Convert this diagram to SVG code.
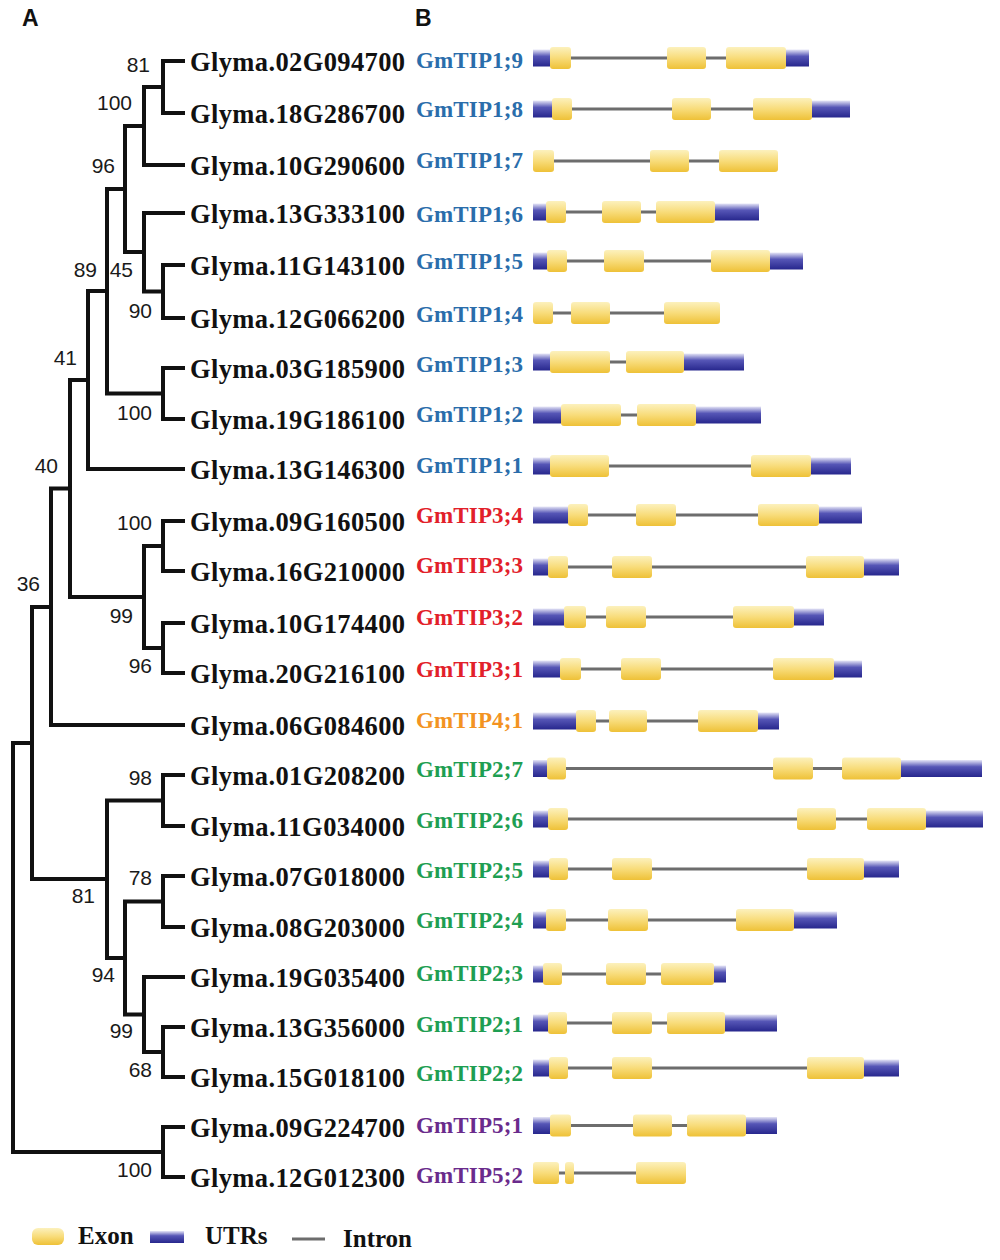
<svg xmlns="http://www.w3.org/2000/svg" width="1000" height="1260" viewBox="0 0 1000 1260">
<defs>
<linearGradient id="gEx" x1="0" y1="0" x2="0" y2="1"><stop offset="0" stop-color="#fcf1bd"/><stop offset="0.5" stop-color="#f8dc7a"/><stop offset="1" stop-color="#eec137"/></linearGradient>
<linearGradient id="gUt" x1="0" y1="0" x2="0" y2="1"><stop offset="0" stop-color="#e6e6f7"/><stop offset="0.4" stop-color="#5656b6"/><stop offset="1" stop-color="#27278d"/></linearGradient>
<style>
.gn{font-family:"Liberation Serif","Times New Roman",serif;font-weight:bold;font-size:26.5px;fill:#111}
.lb{font-family:"Liberation Serif","Times New Roman",serif;font-weight:bold;font-size:23px}
.blue{fill:#2a6dab}.red{fill:#e2202a}.orange{fill:#f39322}.green{fill:#1e9e52}.purple{fill:#6a2b8c}
.bs{font-family:"Liberation Sans",Arial,sans-serif;font-size:21px;text-anchor:end;fill:#1a1a1a}
.pn{font-family:"Liberation Sans",Arial,sans-serif;font-size:23px;font-weight:bold;fill:#111}
.lg{font-family:"Liberation Serif","Times New Roman",serif;font-weight:bold;font-size:25px;fill:#111}
.br{fill:none;stroke:#111;stroke-width:4;stroke-linecap:square;stroke-linejoin:miter}
.in{stroke:#6d6d6d;stroke-width:3}
.ex{fill:url(#gEx)}
.ut{fill:url(#gUt)}
</style>
</defs>
<rect width="1000" height="1260" fill="#fff"/>
<text class="pn" x="22" y="26">A</text>
<text class="pn" x="415" y="26">B</text>

<g id="connectors">
<path class="br" d="M183,61 H163 V113 H183"/>
<path class="br" d="M163,87 H144 V165 H183"/>
<path class="br" d="M183,265 H163 V318 H183"/>
<path class="br" d="M183,213 H144 V291.5 H163"/>
<path class="br" d="M144,126 H125 V252 H144"/>
<path class="br" d="M183,368 H163 V419 H183"/>
<path class="br" d="M125,189 H107 V393.5 H163"/>
<path class="br" d="M107,291 H88 V469 H183"/>
<path class="br" d="M183,521 H163 V571 H183"/>
<path class="br" d="M183,623 H163 V673 H183"/>
<path class="br" d="M163,546 H144 V648 H163"/>
<path class="br" d="M88,380 H70 V597 H144"/>
<path class="br" d="M70,488.5 H51 V725 H183"/>
<path class="br" d="M183,775 H163 V826 H183"/>
<path class="br" d="M183,876 H163 V927 H183"/>
<path class="br" d="M183,1027 H163 V1077 H183"/>
<path class="br" d="M183,977 H144 V1052 H163"/>
<path class="br" d="M163,901.5 H125 V1014.5 H144"/>
<path class="br" d="M163,800.5 H107 V958 H125"/>
<path class="br" d="M51,607 H32 V879 H107"/>
<path class="br" d="M183,1127 H163 V1177 H183"/>
<path class="br" d="M32,743 H13 V1152 H163"/>
</g>

<g id="bootstrap">
<text class="bs" x="150" y="72">81</text>
<text class="bs" x="132" y="110">100</text>
<text class="bs" x="115" y="173">96</text>
<text class="bs" x="97" y="277">89</text>
<text class="bs" x="133" y="277">45</text>
<text class="bs" x="152" y="318">90</text>
<text class="bs" x="77" y="365">41</text>
<text class="bs" x="152" y="420">100</text>
<text class="bs" x="58" y="473">40</text>
<text class="bs" x="152" y="530">100</text>
<text class="bs" x="40" y="591">36</text>
<text class="bs" x="133" y="623">99</text>
<text class="bs" x="152" y="673">96</text>
<text class="bs" x="152" y="785">98</text>
<text class="bs" x="95" y="903">81</text>
<text class="bs" x="152" y="885">78</text>
<text class="bs" x="115" y="982">94</text>
<text class="bs" x="133" y="1038">99</text>
<text class="bs" x="152" y="1077">68</text>
<text class="bs" x="152" y="1177">100</text>
</g>

<g id="GmTIP1-9"><text class="gn" x="190" y="71" textLength="215" lengthAdjust="spacing">Glyma.02G094700</text><text class="lb blue" x="416" y="68" textLength="107" lengthAdjust="spacing">GmTIP1;9</text>
<line class="in" x1="550" y1="58" x2="726" y2="58"/><rect class="ut" x="533" y="49.5" width="17" height="17"/><rect class="ut" x="786" y="49.5" width="23" height="17"/><rect class="ex" x="550" y="47" width="21" height="22" rx="3"/><rect class="ex" x="667" y="47" width="39" height="22" rx="3"/><rect class="ex" x="726" y="47" width="60" height="22" rx="3"/></g>

<g id="GmTIP1-8"><text class="gn" x="190" y="123" textLength="215" lengthAdjust="spacing">Glyma.18G286700</text><text class="lb blue" x="416" y="117" textLength="107" lengthAdjust="spacing">GmTIP1;8</text>
<line class="in" x1="552" y1="109" x2="753" y2="109"/><rect class="ut" x="533" y="100.5" width="19" height="17"/><rect class="ut" x="812" y="100.5" width="38" height="17"/><rect class="ex" x="552" y="98" width="20" height="22" rx="3"/><rect class="ex" x="672" y="98" width="39" height="22" rx="3"/><rect class="ex" x="753" y="98" width="59" height="22" rx="3"/></g>

<g id="GmTIP1-7"><text class="gn" x="190" y="175" textLength="215" lengthAdjust="spacing">Glyma.10G290600</text><text class="lb blue" x="416" y="168" textLength="107" lengthAdjust="spacing">GmTIP1;7</text>
<line class="in" x1="533" y1="161" x2="719" y2="161"/><rect class="ex" x="533" y="150" width="21" height="22" rx="3"/><rect class="ex" x="650" y="150" width="39" height="22" rx="3"/><rect class="ex" x="719" y="150" width="59" height="22" rx="3"/></g>

<g id="GmTIP1-6"><text class="gn" x="190" y="223" textLength="215" lengthAdjust="spacing">Glyma.13G333100</text><text class="lb blue" x="416" y="222" textLength="107" lengthAdjust="spacing">GmTIP1;6</text>
<line class="in" x1="546" y1="212" x2="656" y2="212"/><rect class="ut" x="533" y="203.5" width="13" height="17"/><rect class="ut" x="715" y="203.5" width="44" height="17"/><rect class="ex" x="546" y="201" width="20" height="22" rx="3"/><rect class="ex" x="602" y="201" width="39" height="22" rx="3"/><rect class="ex" x="656" y="201" width="59" height="22" rx="3"/></g>

<g id="GmTIP1-5"><text class="gn" x="190" y="275" textLength="215" lengthAdjust="spacing">Glyma.11G143100</text><text class="lb blue" x="416" y="269" textLength="107" lengthAdjust="spacing">GmTIP1;5</text>
<line class="in" x1="547" y1="261" x2="711" y2="261"/><rect class="ut" x="533" y="252.5" width="14" height="17"/><rect class="ut" x="770" y="252.5" width="33" height="17"/><rect class="ex" x="547" y="250" width="20" height="22" rx="3"/><rect class="ex" x="604" y="250" width="40" height="22" rx="3"/><rect class="ex" x="711" y="250" width="59" height="22" rx="3"/></g>

<g id="GmTIP1-4"><text class="gn" x="190" y="328" textLength="215" lengthAdjust="spacing">Glyma.12G066200</text><text class="lb blue" x="416" y="322" textLength="107" lengthAdjust="spacing">GmTIP1;4</text>
<line class="in" x1="533" y1="313" x2="664" y2="313"/><rect class="ex" x="533" y="302" width="20" height="22" rx="3"/><rect class="ex" x="571" y="302" width="39" height="22" rx="3"/><rect class="ex" x="664" y="302" width="56" height="22" rx="3"/></g>

<g id="GmTIP1-3"><text class="gn" x="190" y="378" textLength="215" lengthAdjust="spacing">Glyma.03G185900</text><text class="lb blue" x="416" y="372" textLength="107" lengthAdjust="spacing">GmTIP1;3</text>
<line class="in" x1="550" y1="362" x2="626" y2="362"/><rect class="ut" x="533" y="353.5" width="17" height="17"/><rect class="ut" x="684" y="353.5" width="60" height="17"/><rect class="ex" x="550" y="351" width="60" height="22" rx="3"/><rect class="ex" x="626" y="351" width="58" height="22" rx="3"/></g>

<g id="GmTIP1-2"><text class="gn" x="190" y="429" textLength="215" lengthAdjust="spacing">Glyma.19G186100</text><text class="lb blue" x="416" y="422" textLength="107" lengthAdjust="spacing">GmTIP1;2</text>
<line class="in" x1="561" y1="415" x2="637" y2="415"/><rect class="ut" x="533" y="406.5" width="28" height="17"/><rect class="ut" x="696" y="406.5" width="65" height="17"/><rect class="ex" x="561" y="404" width="60" height="22" rx="3"/><rect class="ex" x="637" y="404" width="59" height="22" rx="3"/></g>

<g id="GmTIP1-1"><text class="gn" x="190" y="479" textLength="215" lengthAdjust="spacing">Glyma.13G146300</text><text class="lb blue" x="416" y="473" textLength="107" lengthAdjust="spacing">GmTIP1;1</text>
<line class="in" x1="550" y1="466" x2="751" y2="466"/><rect class="ut" x="533" y="457.5" width="17" height="17"/><rect class="ut" x="811" y="457.5" width="40" height="17"/><rect class="ex" x="550" y="455" width="59" height="22" rx="3"/><rect class="ex" x="751" y="455" width="60" height="22" rx="3"/></g>

<g id="GmTIP3-4"><text class="gn" x="190" y="531" textLength="215" lengthAdjust="spacing">Glyma.09G160500</text><text class="lb red" x="416" y="523" textLength="107" lengthAdjust="spacing">GmTIP3;4</text>
<line class="in" x1="568" y1="515" x2="758" y2="515"/><rect class="ut" x="533" y="506.5" width="35" height="17"/><rect class="ut" x="819" y="506.5" width="43" height="17"/><rect class="ex" x="568" y="504" width="20" height="22" rx="3"/><rect class="ex" x="636" y="504" width="40" height="22" rx="3"/><rect class="ex" x="758" y="504" width="61" height="22" rx="3"/></g>

<g id="GmTIP3-3"><text class="gn" x="190" y="581" textLength="215" lengthAdjust="spacing">Glyma.16G210000</text><text class="lb red" x="416" y="573" textLength="107" lengthAdjust="spacing">GmTIP3;3</text>
<line class="in" x1="548" y1="567" x2="806" y2="567"/><rect class="ut" x="533" y="558.5" width="15" height="17"/><rect class="ut" x="864" y="558.5" width="35" height="17"/><rect class="ex" x="548" y="556" width="20" height="22" rx="3"/><rect class="ex" x="612" y="556" width="40" height="22" rx="3"/><rect class="ex" x="806" y="556" width="58" height="22" rx="3"/></g>

<g id="GmTIP3-2"><text class="gn" x="190" y="633" textLength="215" lengthAdjust="spacing">Glyma.10G174400</text><text class="lb red" x="416" y="625" textLength="107" lengthAdjust="spacing">GmTIP3;2</text>
<line class="in" x1="564" y1="617" x2="733" y2="617"/><rect class="ut" x="533" y="608.5" width="31" height="17"/><rect class="ut" x="794" y="608.5" width="30" height="17"/><rect class="ex" x="564" y="606" width="22" height="22" rx="3"/><rect class="ex" x="606" y="606" width="40" height="22" rx="3"/><rect class="ex" x="733" y="606" width="61" height="22" rx="3"/></g>

<g id="GmTIP3-1"><text class="gn" x="190" y="683" textLength="215" lengthAdjust="spacing">Glyma.20G216100</text><text class="lb red" x="416" y="677" textLength="107" lengthAdjust="spacing">GmTIP3;1</text>
<line class="in" x1="560" y1="669" x2="773" y2="669"/><rect class="ut" x="533" y="660.5" width="27" height="17"/><rect class="ut" x="834" y="660.5" width="28" height="17"/><rect class="ex" x="560" y="658" width="21" height="22" rx="3"/><rect class="ex" x="621" y="658" width="40" height="22" rx="3"/><rect class="ex" x="773" y="658" width="61" height="22" rx="3"/></g>

<g id="GmTIP4-1"><text class="gn" x="190" y="735" textLength="215" lengthAdjust="spacing">Glyma.06G084600</text><text class="lb orange" x="416" y="728" textLength="107" lengthAdjust="spacing">GmTIP4;1</text>
<line class="in" x1="576" y1="721" x2="698" y2="721"/><rect class="ut" x="533" y="712.5" width="43" height="17"/><rect class="ut" x="758" y="712.5" width="21" height="17"/><rect class="ex" x="576" y="710" width="20" height="22" rx="3"/><rect class="ex" x="609" y="710" width="38" height="22" rx="3"/><rect class="ex" x="698" y="710" width="60" height="22" rx="3"/></g>

<g id="GmTIP2-7"><text class="gn" x="190" y="785" textLength="215" lengthAdjust="spacing">Glyma.01G208200</text><text class="lb green" x="416" y="777" textLength="107" lengthAdjust="spacing">GmTIP2;7</text>
<line class="in" x1="547" y1="768.5" x2="842" y2="768.5"/><rect class="ut" x="533" y="760" width="14" height="17"/><rect class="ut" x="901" y="760" width="81" height="17"/><rect class="ex" x="547" y="757.5" width="19" height="22" rx="3"/><rect class="ex" x="773" y="757.5" width="40" height="22" rx="3"/><rect class="ex" x="842" y="757.5" width="59" height="22" rx="3"/></g>

<g id="GmTIP2-6"><text class="gn" x="190" y="836" textLength="215" lengthAdjust="spacing">Glyma.11G034000</text><text class="lb green" x="416" y="828" textLength="107" lengthAdjust="spacing">GmTIP2;6</text>
<line class="in" x1="548" y1="819" x2="867" y2="819"/><rect class="ut" x="533" y="810.5" width="15" height="17"/><rect class="ut" x="926" y="810.5" width="57" height="17"/><rect class="ex" x="548" y="808" width="20" height="22" rx="3"/><rect class="ex" x="797" y="808" width="39" height="22" rx="3"/><rect class="ex" x="867" y="808" width="59" height="22" rx="3"/></g>

<g id="GmTIP2-5"><text class="gn" x="190" y="886" textLength="215" lengthAdjust="spacing">Glyma.07G018000</text><text class="lb green" x="416" y="878" textLength="107" lengthAdjust="spacing">GmTIP2;5</text>
<line class="in" x1="549" y1="869" x2="807" y2="869"/><rect class="ut" x="533" y="860.5" width="16" height="17"/><rect class="ut" x="864" y="860.5" width="35" height="17"/><rect class="ex" x="549" y="858" width="19" height="22" rx="3"/><rect class="ex" x="612" y="858" width="40" height="22" rx="3"/><rect class="ex" x="807" y="858" width="57" height="22" rx="3"/></g>

<g id="GmTIP2-4"><text class="gn" x="190" y="937" textLength="215" lengthAdjust="spacing">Glyma.08G203000</text><text class="lb green" x="416" y="928" textLength="107" lengthAdjust="spacing">GmTIP2;4</text>
<line class="in" x1="546" y1="920" x2="736" y2="920"/><rect class="ut" x="533" y="911.5" width="13" height="17"/><rect class="ut" x="794" y="911.5" width="43" height="17"/><rect class="ex" x="546" y="909" width="20" height="22" rx="3"/><rect class="ex" x="608" y="909" width="40" height="22" rx="3"/><rect class="ex" x="736" y="909" width="58" height="22" rx="3"/></g>

<g id="GmTIP2-3"><text class="gn" x="190" y="987" textLength="215" lengthAdjust="spacing">Glyma.19G035400</text><text class="lb green" x="416" y="981" textLength="107" lengthAdjust="spacing">GmTIP2;3</text>
<line class="in" x1="543" y1="974" x2="661" y2="974"/><rect class="ut" x="533" y="965.5" width="10" height="17"/><rect class="ut" x="714" y="965.5" width="12" height="17"/><rect class="ex" x="543" y="963" width="19" height="22" rx="3"/><rect class="ex" x="606" y="963" width="40" height="22" rx="3"/><rect class="ex" x="661" y="963" width="53" height="22" rx="3"/></g>

<g id="GmTIP2-1"><text class="gn" x="190" y="1037" textLength="215" lengthAdjust="spacing">Glyma.13G356000</text><text class="lb green" x="416" y="1032" textLength="107" lengthAdjust="spacing">GmTIP2;1</text>
<line class="in" x1="548" y1="1023" x2="667" y2="1023"/><rect class="ut" x="533" y="1014.5" width="15" height="17"/><rect class="ut" x="725" y="1014.5" width="52" height="17"/><rect class="ex" x="548" y="1012" width="19" height="22" rx="3"/><rect class="ex" x="612" y="1012" width="40" height="22" rx="3"/><rect class="ex" x="667" y="1012" width="58" height="22" rx="3"/></g>

<g id="GmTIP2-2"><text class="gn" x="190" y="1087" textLength="215" lengthAdjust="spacing">Glyma.15G018100</text><text class="lb green" x="416" y="1081" textLength="107" lengthAdjust="spacing">GmTIP2;2</text>
<line class="in" x1="549" y1="1068" x2="807" y2="1068"/><rect class="ut" x="533" y="1059.5" width="16" height="17"/><rect class="ut" x="864" y="1059.5" width="35" height="17"/><rect class="ex" x="549" y="1057" width="19" height="22" rx="3"/><rect class="ex" x="612" y="1057" width="40" height="22" rx="3"/><rect class="ex" x="807" y="1057" width="57" height="22" rx="3"/></g>

<g id="GmTIP5-1"><text class="gn" x="190" y="1137" textLength="215" lengthAdjust="spacing">Glyma.09G224700</text><text class="lb purple" x="416" y="1133" textLength="107" lengthAdjust="spacing">GmTIP5;1</text>
<line class="in" x1="550" y1="1125.5" x2="687" y2="1125.5"/><rect class="ut" x="533" y="1117" width="17" height="17"/><rect class="ut" x="746" y="1117" width="31" height="17"/><rect class="ex" x="550" y="1114.5" width="21" height="22" rx="3"/><rect class="ex" x="633" y="1114.5" width="39" height="22" rx="3"/><rect class="ex" x="687" y="1114.5" width="59" height="22" rx="3"/></g>

<g id="GmTIP5-2"><text class="gn" x="190" y="1187" textLength="215" lengthAdjust="spacing">Glyma.12G012300</text><text class="lb purple" x="416" y="1183" textLength="107" lengthAdjust="spacing">GmTIP5;2</text>
<line class="in" x1="545" y1="1173" x2="645" y2="1173"/><rect class="ex" x="533" y="1162" width="26" height="22" rx="3"/><rect class="ex" x="565" y="1162" width="9" height="22" rx="3"/><rect class="ex" x="636" y="1162" width="50" height="22" rx="3"/></g>

<g id="legend">
<rect class="ex" x="32" y="1228" width="32" height="17" rx="6"/>
<text class="lg" x="78" y="1244">Exon</text>
<rect class="ut" x="150" y="1231" width="34" height="12"/>
<text class="lg" x="205" y="1244">UTRs</text>
<line class="in" x1="292" y1="1239" x2="325" y2="1239"/>
<text class="lg" x="343" y="1247">Intron</text>
</g>
</svg>
